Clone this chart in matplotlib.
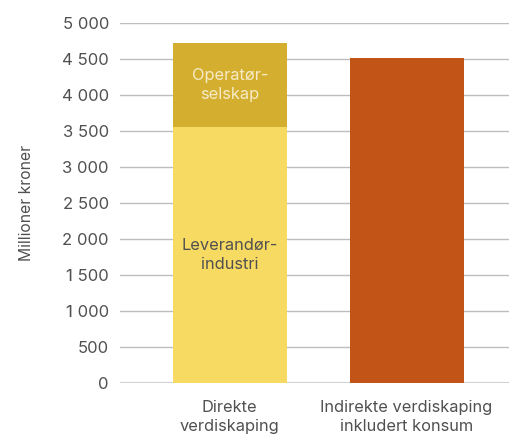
import matplotlib.pyplot as plt

categories = ["Direkte\nverdiskaping", "Indirekte verdiskaping\ninkludert konsum"]
leverandor = [3560, 0]
operator = [1162, 0]
indirekte = [0, 4514]
yticks = [0, 500, 1000, 1500, 2000, 2500, 3000, 3500, 4000, 4500, 5000]

plt.rcParams['font.family'] = ['Inter', 'DejaVu Sans']

fig = plt.figure(figsize=(5.1, 4.36), dpi=100)
ax = fig.add_axes([120/510, 1-383/436, 390/510, 360/436])

x = [0, 1]
w = 0.644
c_lev = "#F7DA62"
c_op = "#D4AF2F"
c_ind = "#C25417"
txt = "#505050"

ax.bar(x[0], leverandor[0], width=w, color=c_lev, zorder=2)
ax.bar(x[0], operator[0], bottom=leverandor[0], width=w, color=c_op, zorder=2)
ax.bar(x[1], indirekte[1], width=w, color=c_ind, zorder=2)

ax.text(x[0], leverandor[0]/2, "Leverandør-\nindustri", ha="center", va="center",
        fontsize=11.8, color=txt, linespacing=1.38, zorder=3)
ax.text(x[0], leverandor[0] + operator[0]/2, "Operatør-\nselskap", ha="center", va="center",
        fontsize=11.8, color="#F6EBC8", linespacing=1.38, zorder=3)

ax.set_xlim(-0.621, 1.585)
ax.set_ylim(0, 5000)
ax.set_yticks(yticks)
ax.set_yticklabels([f"{v:,}".replace(",", " ") if v >= 1000 else str(v) for v in yticks])
for v in yticks:
    ax.axhline(v, color="#d2d2d2" if v == 0 else "#bdbdbd", lw=1.6 if v == 0 else 1.0, zorder=1)

ax.set_xticks(x)
ax.set_xticklabels(categories, fontsize=11.8, color=txt, linespacing=1.38)
ax.tick_params(axis="both", length=0)
ax.tick_params(axis="y", pad=8, labelsize=12, labelcolor=txt)
ax.tick_params(axis="x", pad=12)
for s in ax.spines.values():
    s.set_visible(False)

ax.set_ylabel("Millioner kroner", fontsize=11.3, color=txt, labelpad=20)

fig.savefig("out.png", dpi=100)
